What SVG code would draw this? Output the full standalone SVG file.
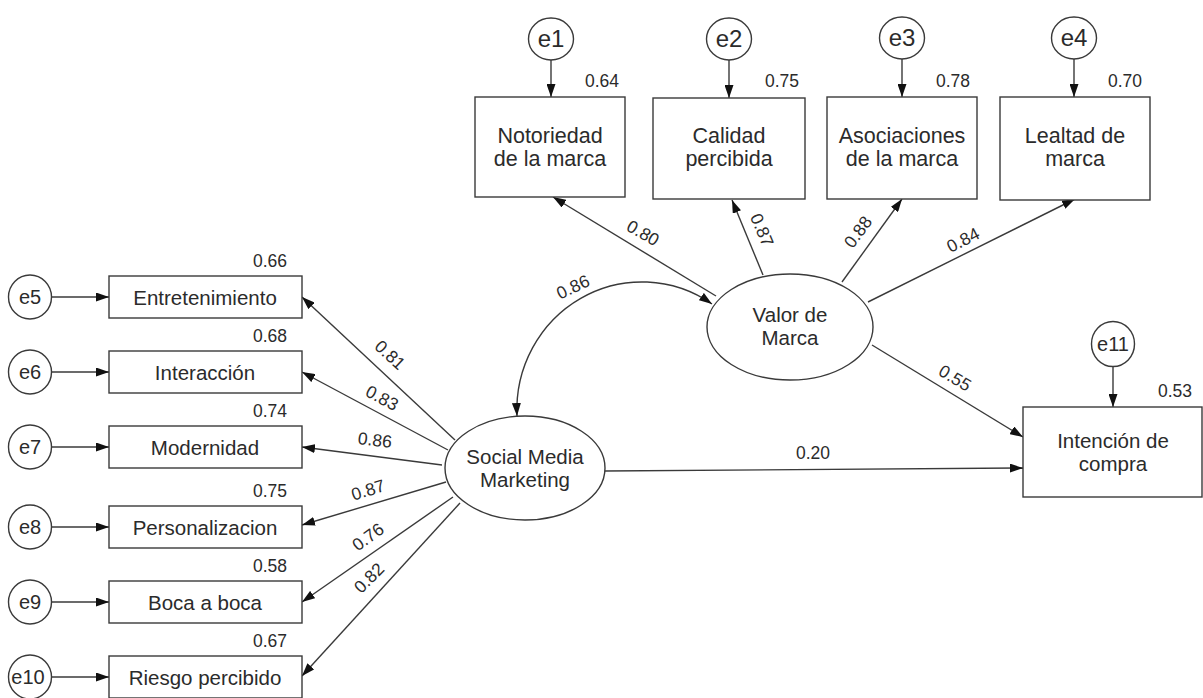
<svg xmlns="http://www.w3.org/2000/svg" width="1203" height="698" viewBox="0 0 1203 698">
<style>
text{font-family:"Liberation Sans",Arial,sans-serif;fill:#2b2b2b}
.box{fill:#fff;stroke:#3a3a3a;stroke-width:1.4}
.lt{font-size:20.5px;text-anchor:middle}
.tt{font-size:21.5px;text-anchor:middle}
.et{font-size:20px;text-anchor:middle}
.eb{font-size:24px;text-anchor:middle}
.num{font-size:17.5px;text-anchor:middle}
.ln{fill:none;stroke:#3a3a3a;stroke-width:1.4;marker-end:url(#ah)}
</style>
<defs>
<marker id="ah" markerUnits="userSpaceOnUse" viewBox="0 0 13 9" refX="13" refY="4.5" markerWidth="13" markerHeight="9" orient="auto-start-reverse">
<path d="M0,0 L13,4.5 L0,9 z" fill="#111"/>
</marker>
</defs>
<rect width="1203" height="698" fill="#fff"/>

<g id="connectors">
<line class="ln" x1="551" y1="60" x2="551" y2="97"/>
<line class="ln" x1="729" y1="60" x2="729" y2="98"/>
<line class="ln" x1="902" y1="59" x2="902" y2="97"/>
<line class="ln" x1="1074" y1="59" x2="1074" y2="97"/>
<line class="ln" x1="1113" y1="366" x2="1113" y2="407"/>
<line class="ln" x1="52" y1="297" x2="109" y2="297"/>
<line class="ln" x1="52" y1="372" x2="109" y2="372"/>
<line class="ln" x1="52" y1="447" x2="109" y2="447"/>
<line class="ln" x1="52" y1="527" x2="109" y2="527"/>
<line class="ln" x1="52" y1="602" x2="109" y2="602"/>
<line class="ln" x1="52" y1="677" x2="109" y2="677"/>
<line class="ln" x1="716" y1="296" x2="553" y2="197"/>
<line class="ln" x1="763" y1="275" x2="732" y2="200"/>
<line class="ln" x1="842" y1="282" x2="902" y2="199"/>
<line class="ln" x1="868" y1="302" x2="1075" y2="199"/>
<line class="ln" x1="872" y1="345" x2="1023" y2="437"/>
<line class="ln" x1="605" y1="471" x2="1023" y2="468"/>
<path class="ln" style="marker-start:url(#ah)" d="M517,416 A125,128 0 0 1 712,304"/>
<line class="ln" x1="455" y1="440" x2="302" y2="297"/>
<line class="ln" x1="448" y1="450" x2="302" y2="372"/>
<line class="ln" x1="442" y1="465" x2="302" y2="447"/>
<line class="ln" x1="446" y1="482" x2="302" y2="525"/>
<line class="ln" x1="453" y1="497" x2="302" y2="602"/>
<line class="ln" x1="460" y1="503" x2="302" y2="676"/>
<text class="num" x="643" y="239" transform="rotate(30 643 233)">0.80</text>
<text class="num" x="762" y="236" transform="rotate(67 762 230)">0.87</text>
<text class="num" x="858" y="238" transform="rotate(-54 858 232)">0.88</text>
<text class="num" x="963" y="246" transform="rotate(-26.5 963 240)">0.84</text>
<text class="num" x="955" y="384" transform="rotate(31 955 378)">0.55</text>
<text class="num" x="813" y="459">0.20</text>
<text class="num" x="573" y="293" transform="rotate(-25 573 287)">0.86</text>
<text class="num" x="390" y="361" transform="rotate(43 390 355)">0.81</text>
<text class="num" x="382" y="404" transform="rotate(28 382 398)">0.83</text>
<text class="num" x="375" y="446" transform="rotate(7 375 440)">0.86</text>
<text class="num" x="368" y="496" transform="rotate(-17 368 490)">0.87</text>
<text class="num" x="368" y="543" transform="rotate(-36 368 537)">0.76</text>
<text class="num" x="369" y="584" transform="rotate(-45 369 578)">0.82</text>
</g>

<g id="e1"><ellipse class="box" cx="551" cy="39" rx="22.5" ry="21"/><text class="eb" x="551" y="47">e1</text></g>
<g id="e2"><ellipse class="box" cx="729" cy="39" rx="22.5" ry="21"/><text class="eb" x="729" y="47">e2</text></g>
<g id="e3"><ellipse class="box" cx="902" cy="38" rx="22.5" ry="21"/><text class="eb" x="902" y="46">e3</text></g>
<g id="e4"><ellipse class="box" cx="1074" cy="38" rx="22.5" ry="21"/><text class="eb" x="1074" y="46">e4</text></g>

<g id="n-notoriedad"><rect class="box" x="475" y="97" width="150" height="100"/><text class="tt" x="550" y="143">Notoriedad</text><text class="tt" x="550" y="166">de la marca</text><text class="num" x="602" y="87">0.64</text></g>
<g id="n-calidad"><rect class="box" x="653" y="98" width="152" height="101"/><text class="tt" x="729" y="143">Calidad</text><text class="tt" x="729" y="166">percibida</text><text class="num" x="782" y="87">0.75</text></g>
<g id="n-asociaciones"><rect class="box" x="827" y="97" width="150" height="102"/><text class="tt" x="902" y="143">Asociaciones</text><text class="tt" x="902" y="166">de la marca</text><text class="num" x="953" y="87">0.78</text></g>
<g id="n-lealtad"><rect class="box" x="1000" y="97" width="150" height="103"/><text class="tt" x="1075" y="143">Lealtad de</text><text class="tt" x="1075" y="166">marca</text><text class="num" x="1125" y="87">0.70</text></g>

<g id="valor-marca"><ellipse class="box" cx="790" cy="327" rx="83" ry="53"/><text class="lt" x="790" y="322">Valor de</text><text class="lt" x="790" y="345">Marca</text></g>
<g id="smm"><ellipse class="box" cx="525" cy="468" rx="80" ry="52"/><text class="lt" x="525" y="464">Social Media</text><text class="lt" x="525" y="487">Marketing</text></g>

<g id="intencion"><rect class="box" x="1023" y="407" width="179" height="90"/><text class="lt" x="1113" y="448">Intención de</text><text class="lt" x="1113" y="471">compra</text><text class="num" x="1175" y="397">0.53</text></g>
<g id="e11"><ellipse class="box" cx="1113" cy="344" rx="21.5" ry="22.5"/><text class="et" x="1113" y="351">e11</text></g>

<g id="e5"><ellipse class="box" cx="30" cy="297" rx="21.5" ry="22"/><text class="et" x="30" y="304">e5</text></g>
<g id="e6"><ellipse class="box" cx="30" cy="372" rx="21.5" ry="22"/><text class="et" x="30" y="379">e6</text></g>
<g id="e7"><ellipse class="box" cx="30" cy="447" rx="21.5" ry="22"/><text class="et" x="30" y="454">e7</text></g>
<g id="e8"><ellipse class="box" cx="30" cy="527" rx="21.5" ry="22"/><text class="et" x="30" y="534">e8</text></g>
<g id="e9"><ellipse class="box" cx="30" cy="602" rx="21.5" ry="22"/><text class="et" x="30" y="609">e9</text></g>
<g id="e10"><ellipse class="box" cx="30" cy="677" rx="21.5" ry="22"/><text class="et" x="28" y="684">e10</text></g>

<g id="n-entretenimiento"><rect class="box" x="109" y="276" width="193" height="42"/><text class="lt" x="205" y="305">Entretenimiento</text><text class="num" x="270" y="267">0.66</text></g>
<g id="n-interaccion"><rect class="box" x="109" y="351" width="193" height="42"/><text class="lt" x="205" y="380">Interacción</text><text class="num" x="270" y="342">0.68</text></g>
<g id="n-modernidad"><rect class="box" x="109" y="426" width="193" height="42"/><text class="lt" x="205" y="455">Modernidad</text><text class="num" x="270" y="417">0.74</text></g>
<g id="n-personalizacion"><rect class="box" x="109" y="506" width="193" height="42"/><text class="lt" x="205" y="535">Personalizacion</text><text class="num" x="270" y="497">0.75</text></g>
<g id="n-boca"><rect class="box" x="109" y="581" width="193" height="42"/><text class="lt" x="205" y="610">Boca a boca</text><text class="num" x="270" y="572">0.58</text></g>
<g id="n-riesgo"><rect class="box" x="109" y="656" width="193" height="42"/><text class="lt" x="205" y="685">Riesgo percibido</text><text class="num" x="270" y="647">0.67</text></g>
</svg>
